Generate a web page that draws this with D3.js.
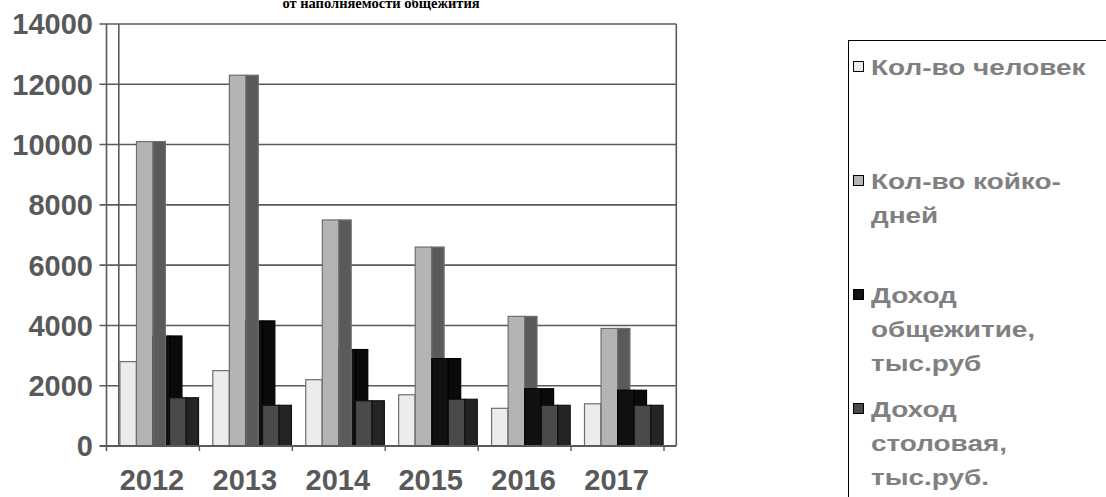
<!DOCTYPE html>
<html>
<head>
<meta charset="utf-8">
<script src="https://cdn.jsdelivr.net/npm/d3@7"></script>
<style>
    body { margin: 0; background: #fff; }
    svg { display: block; }
</style>
</head>
<body>
<div id="chart"></div>
<script>
const years = ["2012", "2013", "2014", "2015", "2016", "2017"];
const series = ["Кол-во человек", "Кол-во койко-дней", "Доход общежитие, тыс.руб", "Доход столовая, тыс.руб."];
const people = [2800, 2500, 2200, 1700, 1250, 1400];
const bedDays = [10100, 12300, 7500, 6600, 4300, 3900];
const incomeDorm = [3650, 4150, 3200, 2900, 1900, 1850];
const incomeCanteen = [1600, 1350, 1500, 1550, 1350, 1350];
const yTicks = [0, 2000, 4000, 6000, 8000, 10000, 12000, 14000];
const legendLines = [
    ["Кол-во человек"],
    ["Кол-во койко-", "дней"],
    ["Доход", "общежитие,", "тыс.руб"],
    ["Доход", "столовая,", "тыс.руб."]
];

const values = [people, bedDays, incomeDorm, incomeCanteen];
const frontColors = ["#ececec", "#b4b4b4", "#111111", "#4a4a4a"];
const sideColors = ["#8c8c8c", "#5a5a5a", "#0a0a0a", "#242424"];
const edgeColors = ["#6e6e6e", "#6e6e6e", "#000000", "#111111"];

const width = 1106, height = 497;
const depth = 12.3; // horizontal offset of the 3D depth

const svg = d3.select("#chart").append("svg")
    .attr("width", width)
    .attr("height", height);

const x = d3.scaleBand().domain(years).range([106.5, 664]).padding(0);
const x1 = d3.scaleBand().domain(d3.range(series.length))
    .range([13.4, x.bandwidth() - 13.2]).padding(0);
const y = d3.scaleLinear().domain([0, 14000]).range([446, 24]);

const axisColor = "#5a5a5a";

// back wall + grid
const xLeft = x.range()[0], xRight = x.range()[1];
svg.append("g").selectAll("line.grid")
    .data(yTicks.slice(1))
    .enter().append("line")
    .attr("x1", xLeft - 7).attr("x2", xRight + depth)
    .attr("y1", d => y(d)).attr("y2", d => y(d))
    .attr("stroke", axisColor).attr("stroke-width", 1.6);

svg.append("line") // back wall left
    .attr("x1", xLeft + depth).attr("x2", xLeft + depth)
    .attr("y1", y(14000)).attr("y2", y(0))
    .attr("stroke", axisColor).attr("stroke-width", 1.6);
svg.append("line") // back wall right
    .attr("x1", xRight + depth).attr("x2", xRight + depth)
    .attr("y1", y(14000)).attr("y2", y(0))
    .attr("stroke", axisColor).attr("stroke-width", 1.6);

// bars: faces in draw order
const faces = [];
years.forEach((yr, gi) => {
    const list = [];
    values.forEach((vals, si) => {
        const v = vals[gi];
        const bx = x(yr) + x1(si);
        const w = x1.bandwidth();
        list.push({ kind: "front", si, x: bx, w, v });
        list.push({ kind: "side", si, x: bx + w, w: depth, v });
    });
    // Excel's painter order puts the bed-days side face above the dorm front when that bar is tall
    if (incomeDorm[gi] > 3000) {
        const side = list.splice(3, 1)[0];
        list.splice(4, 0, side);
    }
    faces.push(...list);
});

svg.append("g").selectAll("rect.face")
    .data(faces)
    .enter().append("rect")
    .attr("x", d => d.x)
    .attr("y", d => y(d.v))
    .attr("width", d => d.w)
    .attr("height", d => y(0) - y(d.v))
    .attr("fill", d => d.kind === "front" ? frontColors[d.si] : sideColors[d.si])
    .attr("stroke", d => edgeColors[d.si])
    .attr("stroke-width", 1.2);

// front axes
svg.append("line")
    .attr("x1", xLeft).attr("x2", xLeft)
    .attr("y1", y(14000)).attr("y2", y(0) + 5)
    .attr("stroke", axisColor).attr("stroke-width", 1.6);
svg.append("line")
    .attr("x1", xLeft - 7).attr("x2", xRight + depth)
    .attr("y1", y(0)).attr("y2", y(0))
    .attr("stroke", axisColor).attr("stroke-width", 2);
svg.append("g").selectAll("line.xt")
    .data(years.slice(1).concat(["end"]))
    .enter().append("line")
    .attr("x1", d => d === "end" ? xRight : x(d))
    .attr("x2", d => d === "end" ? xRight : x(d))
    .attr("y1", y(0)).attr("y2", y(0) + 5)
    .attr("stroke", axisColor).attr("stroke-width", 1.4);

// y labels
svg.append("g").selectAll("text.yl")
    .data(yTicks)
    .enter().append("text")
    .attr("x", 93)
    .attr("y", d => y(d))
    .attr("dy", "0.36em")
    .attr("text-anchor", "end")
    .style("font-family", "'Liberation Sans', Arial, sans-serif")
    .style("font-weight", "bold")
    .style("font-size", "29px")
    .style("fill", "#595959")
    .text(d => d);

// x labels
svg.append("g").selectAll("text.xl")
    .data(years)
    .enter().append("text")
    .attr("x", d => x(d) + x.bandwidth() / 2 - 1)
    .attr("y", 490)
    .attr("text-anchor", "middle")
    .style("font-family", "'Liberation Sans', Arial, sans-serif")
    .style("font-weight", "bold")
    .style("font-size", "29px")
    .style("fill", "#595959")
    .text(d => d);

// title (only the bottom of its second line shows in the frame)
svg.append("text")
    .attr("x", 381)
    .attr("y", 7.5)
    .attr("text-anchor", "middle")
    .style("font-family", "'Liberation Serif', 'Times New Roman', serif")
    .style("font-weight", "bold")
    .style("font-size", "14.5px")
    .style("fill", "#000")
    .text("от наполняемости общежития");

// legend
svg.append("rect")
    .attr("x", 848.5).attr("y", 40.5)
    .attr("width", 300).attr("height", 500)
    .attr("fill", "#fff")
    .attr("stroke", "#000").attr("stroke-width", 1);

const legend = svg.append("g").selectAll("g.item")
    .data(series)
    .enter().append("g")
    .attr("transform", (d, i) => `translate(0, ${67 + i * 114})`);

legend.append("rect")
    .attr("x", 853.5).attr("y", -5.5)
    .attr("width", 10).attr("height", 10)
    .attr("fill", (d, i) => frontColors[i])
    .attr("stroke", "#000").attr("stroke-width", 1);

legend.each(function(d, i) {
    d3.select(this).selectAll("text")
        .data(legendLines[i])
        .enter().append("text")
        .attr("transform", (t, j) => `translate(871, ${j * 34}) scale(1.27, 1)`)
        .attr("dy", "0.36em")
        .style("font-family", "'Liberation Sans', Arial, sans-serif")
        .style("font-weight", "bold")
        .style("font-size", "22px")
        .style("fill", "#808080")
        .text(t => t);
});
</script>
</body>
</html>
